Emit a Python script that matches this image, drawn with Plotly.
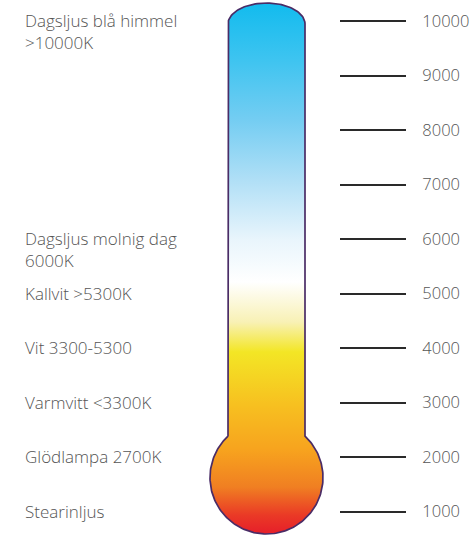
import numpy as np
import plotly.graph_objects as go

# ---- data ----
scale_temps = [1000, 2000, 3000, 4000, 5000, 6000, 7000, 8000, 9000, 10000]
scale_labels = ["1000", "2000", "3000", "4000", "5000", "6000", "7000", "8000", "9000", "10000"]
source_labels = [
    "Dagsljus blå himmel<br>&gt;10000K",
    "Dagsljus molnig dag<br>6000K",
    "Kallvit &gt;5300K",
    "Vit 3300-5300",
    "Varmvitt &lt;3300K",
    "Glödlampa 2700K",
    "Stearinljus",
]
source_temps = [10000, 6000, 5000, 4000, 3000, 2000, 1000]

# ---- layout helpers (pixel geometry of the drawing) ----
W, H = 476, 536
Y_TOP_PX, Y_TOP_K = 21.0, 10000.0
Y_BOT_PX, Y_BOT_K = 511.5, 1000.0
K_PER_PX = (Y_TOP_K - Y_BOT_K) / (Y_BOT_PX - Y_TOP_PX)


def px_to_k(y):
    return Y_TOP_K - (np.asarray(y) - Y_TOP_PX) * K_PER_PX


y_range = [float(px_to_k(H)), float(px_to_k(0))]

# thermometer outline (pixel space)
cx = 266.5
tube_l, tube_r = 228.0, 305.0
half_w = (tube_r - tube_l) / 2
cap_top, cap_h = 3.0, 21.0
bulb_cy, bulb_r = 477.5, 56.5
sh_dy = np.sqrt(bulb_r**2 - half_w**2)
shoulder_y = bulb_cy - sh_dy

xs, ys = [], []
xs += [tube_l, tube_l]
ys += [shoulder_y, cap_top + cap_h]
t = np.linspace(np.pi, 0, 60)
xs += list(cx + half_w * np.cos(t))
ys += list(cap_top + cap_h - cap_h * np.sin(t))
xs += [tube_r, tube_r]
ys += [cap_top + cap_h, shoulder_y]
a0 = np.arctan2(-sh_dy, half_w)
a1 = np.arctan2(-sh_dy, -half_w) + 2 * np.pi
a = np.linspace(a0, a1, 160)
xs += list(cx + bulb_r * np.cos(a))
ys += list(bulb_cy + bulb_r * np.sin(a))
xs.append(xs[0])
ys.append(ys[0])

# gradient stops (pixel y -> colour), converted to 0..1 from bottom
bottom_px = bulb_cy + bulb_r
top_px = cap_top
stops_px = [535, 515, 487, 450, 405, 352, 322, 282, 240, 180, 120, 60, 3]
stops_col = ["#e61e2a", "#ea3a26", "#f07f22", "#f7a31e", "#f7c020", "#f3e625", "#f8f1b5",
             "#ffffff", "#e9f5fc", "#b0dff6", "#74cdf2", "#3ec4f0", "#12bbee"]
cscale = []
for p, c in zip(stops_px, stops_col):
    f = (bottom_px - p) / (bottom_px - top_px)
    cscale.append([float(min(max(f, 0), 1)), c])
cscale.sort(key=lambda s: s[0])

fig = go.Figure()
fig.add_trace(go.Scatter(
    x=xs, y=px_to_k(ys), mode="lines", fill="toself",
    fillgradient=dict(type="vertical", colorscale=cscale),
    line=dict(color="#4a2c66", width=1.7),
    hoverinfo="skip", showlegend=False,
))

font_family = "Open Sans, Noto Sans, sans-serif"
for txt, tk in zip(source_labels, source_temps):
    fig.add_annotation(
        x=23, y=tk, xref="x", yref="y", text=txt, showarrow=False,
        xanchor="left", yanchor="top", yshift=14, align="left",
        font=dict(family=font_family, size=17, color="#555555", weight=300),
    )

fig.update_layout(
    width=W, height=H, margin=dict(l=0, r=0, t=0, b=0),
    paper_bgcolor="white", plot_bgcolor="white",
    xaxis=dict(range=[0, W], visible=False, fixedrange=True),
    yaxis=dict(
        range=y_range, side="right", anchor="free", position=339 / W,
        tickvals=scale_temps, ticktext=scale_labels,
        ticks="outside", ticklen=66, tickwidth=1.6, tickcolor="#2a2a2a",
        ticklabelstandoff=13, fixedrange=True,
        showgrid=False, zeroline=False, showline=False,
        tickfont=dict(family=font_family, size=16.5, color="#555555", weight=300),
    ),
)
fig.write_html("out.html", config={"displayModeBar": False},
               post_script="document.body.style.margin='0';")
